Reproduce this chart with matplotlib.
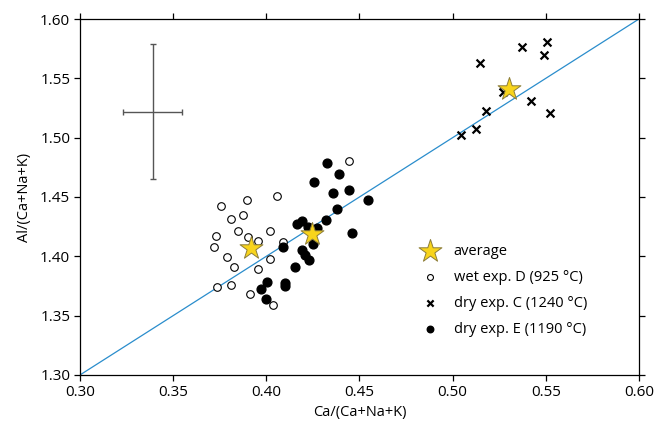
import matplotlib.pyplot as plt

plt.rcParams['font.family'] = ['Open Sans', 'DejaVu Sans']

# wet experiment D (925 °C), open circles
wet_d_x = [0.4444, 0.3755, 0.3895, 0.4059, 0.3811, 0.3877, 0.3850, 0.4020,
           0.3728, 0.3719, 0.3903, 0.3954, 0.4087, 0.3787, 0.4020, 0.3825,
           0.3954, 0.3733, 0.3811, 0.3913, 0.4038]
wet_d_y = [1.4806, 1.4425, 1.4472, 1.4512, 1.4315, 1.4346, 1.4214, 1.4214,
           1.4175, 1.4082, 1.4161, 1.4130, 1.4124, 1.3998, 1.3976, 1.3911,
           1.3897, 1.3740, 1.3759, 1.3683, 1.3591]

# dry experiment C (1240 °C), crosses
dry_c_x = [0.5505, 0.5374, 0.5491, 0.5147, 0.5419, 0.5523, 0.5178, 0.5126,
           0.5043, 0.5272]
dry_c_y = [1.5809, 1.5762, 1.5697, 1.5627, 1.5309, 1.5206, 1.5222, 1.5071,
           1.5020, 1.5388]

# dry experiment E (1190 °C), filled circles
dry_e_x = [0.4327, 0.4388, 0.4256, 0.4356, 0.4444, 0.4546, 0.4378, 0.4319,
           0.4190, 0.4163, 0.4226, 0.4270, 0.4458, 0.4252, 0.4091, 0.4190,
           0.4208, 0.4229, 0.4154, 0.4002, 0.3970, 0.4100, 0.4100, 0.3997]
dry_e_y = [1.4790, 1.4697, 1.4624, 1.4532, 1.4559, 1.4473, 1.4402, 1.4307,
           1.4301, 1.4272, 1.4250, 1.4236, 1.4200, 1.4106, 1.4077, 1.4054,
           1.4012, 1.3970, 1.3914, 1.3784, 1.3723, 1.3773, 1.3751, 1.3644]

# averages of each experiment
avg_x = [0.3918, 0.4244, 0.5303]
avg_y = [1.4068, 1.4186, 1.5408]

# 1:1 reference line
line_x = [0.30, 0.60]
line_y = [1.30, 1.60]

# typical uncertainty
err_x, err_y = 0.339, 1.522
err_dx, err_dy = 0.016, 0.057

fig = plt.figure(figsize=(6.54, 4.30), dpi=100)
ax = fig.add_axes([0.1223, 0.128, 0.8547, 0.8278])

ax.plot(line_x, line_y, color='#2a8dcc', lw=0.9, zorder=1)

ax.errorbar(err_x, err_y, xerr=err_dx, yerr=err_dy, color='#555555',
            lw=1.0, capsize=2.5, capthick=1.0, zorder=2)

ax.scatter(wet_d_x, wet_d_y, s=30, facecolor='white', edgecolor='black',
           lw=0.8, zorder=3, label='wet exp. D (925 °C)')
ax.scatter(dry_c_x, dry_c_y, s=32, marker='x', color='black', lw=1.6,
           zorder=3, label='dry exp. C (1240 °C)')
ax.scatter(dry_e_x, dry_e_y, s=40, color='black', zorder=3,
           label='dry exp. E (1190 °C)')
ax.scatter(avg_x, avg_y, s=300, marker='*', facecolor='#f8d41c',
           edgecolor='#8c7d3a', lw=0.7, zorder=4, label='average')

handles, labels = ax.get_legend_handles_labels()
order = [3, 0, 1, 2]
leg = ax.legend([handles[i] for i in order], [labels[i] for i in order],
                loc='upper left', bbox_to_anchor=(0.577, 0.405), frameon=False,
                fontsize=10.5, labelspacing=0.75, handletextpad=0.6,
                scatterpoints=1)
leg.legend_handles[1].set_sizes([18])
leg.legend_handles[2].set_sizes([20])
leg.legend_handles[3].set_sizes([22])

ax.set_xlim(0.30, 0.60)
ax.set_ylim(1.30, 1.60)
ax.set_xticks([0.30, 0.35, 0.40, 0.45, 0.50, 0.55, 0.60])
ax.set_yticks([1.30, 1.35, 1.40, 1.45, 1.50, 1.55, 1.60])
ax.xaxis.set_major_formatter(plt.FormatStrFormatter('%.2f'))
ax.yaxis.set_major_formatter(plt.FormatStrFormatter('%.2f'))
ax.tick_params(direction='out', length=4, width=0.9, labelsize=11,
               top=True, right=True, pad=3)
for s in ax.spines.values():
    s.set_linewidth(0.9)

ax.set_xlabel('Ca/(Ca+Na+K)', fontsize=10.5, labelpad=4)
ax.set_ylabel('Al/(Ca+Na+K)', fontsize=10.5, labelpad=6)

fig.savefig('out.png', dpi=100)
